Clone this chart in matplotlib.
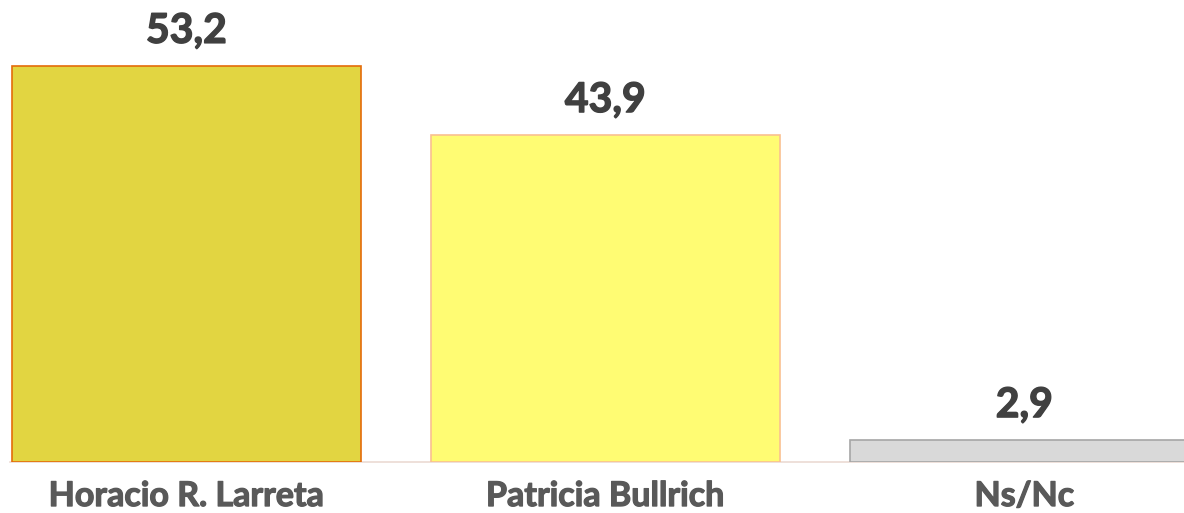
import matplotlib
matplotlib.use("Agg")
import matplotlib.pyplot as plt
import matplotlib.patheffects as pe

categories = ["Horacio R. Larreta", "Patricia Bullrich", "Ns/Nc"]
values = [53.2, 43.9, 2.9]
value_labels = ["53,2", "43,9", "2,9"]

face_colors = ["#E2D541", "#FFFC73", "#D9D9D9"]
edge_colors = ["#E46C0A", "#FAC090", "#A6A6A6"]

W, H = 1184, 513
fig = plt.figure(figsize=(W / 100, H / 100), dpi=100)
ax = fig.add_axes([0, 51 / H, 1, 462 / H])
ax.set_xlim(-0.445, 2.381)
ax.set_ylim(0, 62.1)
ax.axis("off")

x = list(range(len(categories)))
ax.bar(x, values, width=0.833, color=face_colors, edgecolor=edge_colors,
       linewidth=1.2, zorder=2)
ax.plot([-0.42, 2.381], [0, 0], color="#EBDAD3", lw=1.2, zorder=1,
        clip_on=False)

font = "Lato"
for xi, v, lab in zip(x, values, value_labels):
    ax.annotate(lab, (xi, v), xytext=(0, 16.8), textcoords="offset points",
                ha="center", va="baseline", fontsize=29.5, fontweight="bold",
                color="#404040", family=font,
                path_effects=[pe.withStroke(linewidth=1.0, foreground="#404040")])
for xi, c in zip(x, categories):
    ax.annotate(c, (xi, 0), xytext=(0, -31.7), textcoords="offset points",
                ha="center", va="baseline", fontsize=24.5, fontweight="bold",
                color="#595959", family=font, annotation_clip=False,
                path_effects=[pe.withStroke(linewidth=0.9, foreground="#595959")])

fig.savefig("out.png", dpi=100)
